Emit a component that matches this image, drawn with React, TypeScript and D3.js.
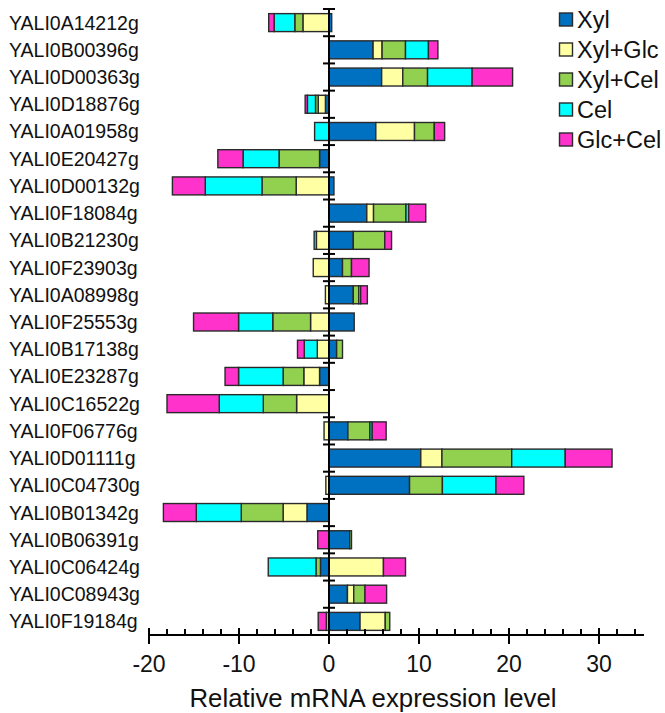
import React from "react";
import * as d3 from "d3";

const categories = [
  "YALI0A14212g", "YALI0B00396g", "YALI0D00363g", "YALI0D18876g", "YALI0A01958g",
  "YALI0E20427g", "YALI0D00132g", "YALI0F18084g", "YALI0B21230g", "YALI0F23903g",
  "YALI0A08998g", "YALI0F25553g", "YALI0B17138g", "YALI0E23287g", "YALI0C16522g",
  "YALI0F06776g", "YALI0D01111g", "YALI0C04730g", "YALI0B01342g", "YALI0B06391g",
  "YALI0C06424g", "YALI0C08943g", "YALI0F19184g",
];

const seriesNames = ["Xyl", "Xyl+Glc", "Xyl+Cel", "Cel", "Glc+Cel"];
const seriesColors = ["#0070C0", "#FFFFA3", "#92D050", "#00FFFF", "#FF33CC"];

const xyl = [0.3, 4.9, 5.85, -0.4, 5.2, -1.05, 0.55, 4.2, 2.7, 1.5, 2.7, 2.8, 0.85, -1.05, 0, 2.1, 10.2, 8.95, -2.45, 2.3, -0.95, 2.05, 3.45];
const xylGlc = [-2.9, 1.0, 2.35, -0.8, 4.3, 0, -3.65, 0.75, -1.4, -1.75, -0.4, -2.05, -1.3, -1.75, -3.6, -0.55, 2.35, -0.35, -2.65, 0, 6.05, 0.7, 2.8];
const xylCel = [-0.9, 2.6, 2.75, -0.3, 2.2, -4.5, -3.8, 3.6, 3.5, 1.0, 0.6, -4.2, 0.65, -2.3, -3.7, 2.45, 7.75, 3.65, -4.65, 0.2, -0.5, 1.25, 0.5];
const cel = [-2.3, 2.55, 4.95, -0.9, -1.6, -4.0, -6.3, 0.3, -0.25, 0, 0.22, -3.8, -1.45, -4.95, -4.9, 0.25, 5.95, 5.95, -5.0, 0, -5.3, 0, -0.3];
const glcCel = [-0.6, 1.05, 4.5, -0.25, 1.15, -2.8, -3.65, 1.9, 0.75, 1.95, 0.74, -5.0, -0.75, -1.5, -5.8, 1.55, 5.2, 3.1, -3.65, -1.25, 2.45, 2.4, -0.9];

const majorTicks = [-20, -10, 0, 10, 20, 30];
const minorTicks = d3.range(-18, 35, 2).filter((v) => v % 10 !== 0);

const W = 665;
const H = 713;
const FONT = "Arial, 'Liberation Sans', Helvetica, sans-serif";

export default function App() {
  const seriesArrays = [xyl, xylGlc, xylCel, cel, glcCel];
  const rows = categories.map((c, i) => {
    const r: Record<string, any> = { cat: c };
    seriesNames.forEach((s, j) => (r[s] = seriesArrays[j][i]));
    return r;
  });

  const stack = d3.stack<any>().keys(seriesNames).offset(d3.stackOffsetDiverging).order(d3.stackOrderNone);
  const layers = stack(rows);

  const x = d3.scaleLinear().domain([-20, 35]).range([149, 644]);
  const y = d3.scaleBand<string>().domain(categories).range([9, 635]).paddingInner(0.34).paddingOuter(0.17);
  const step = y.step();
  const axisY = 635;
  const x0 = x(0);

  return (
    <svg width={W} height={H} style={{ position: "absolute", left: 0, top: 0, background: "#fff" }} fontFamily={FONT}>
      {/* bars */}
      {layers.map((layer, li) => (
        <g key={layer.key}>
          {layer.map((d, i) => {
            const a = x(d[0]);
            const b = x(d[1]);
            if (Math.abs(b - a) < 0.01) return null;
            return (
              <rect
                key={i}
                x={Math.min(a, b)}
                y={y(categories[i])!}
                width={Math.abs(b - a)}
                height={y.bandwidth()}
                fill={seriesColors[li]}
                stroke="#2a2a2a"
                strokeWidth={1.4}
              />
            );
          })}
        </g>
      ))}

      {/* y axis */}
      <line x1={x0} x2={x0} y1={9} y2={axisY} stroke="#000" strokeWidth={2} />
      {categories.map((c, i) => {
        const ty = y(c)! - (y.paddingInner() * step) / 2;
        return <line key={"yt" + i} x1={x0 - 6} x2={x0 + 6} y1={ty} y2={ty} stroke="#000" strokeWidth={2} />;
      })}

      {/* category labels */}
      {categories.map((c) => (
        <text key={"lab" + c} x={9} y={y(c)! + y.bandwidth() / 2} dy="0.36em" fontSize={19.5} fill="#111">
          {c}
        </text>
      ))}

      {/* x axis */}
      <line x1={x(-20)} x2={x(35)} y1={axisY} y2={axisY} stroke="#000" strokeWidth={2} />
      {majorTicks.map((t) => (
        <g key={"mt" + t}>
          <line x1={x(t)} x2={x(t)} y1={axisY - 7} y2={axisY + 9} stroke="#000" strokeWidth={2} />
          <text x={x(t)} y={672} textAnchor="middle" fontSize={23} fill="#111">
            {t}
          </text>
        </g>
      ))}
      {minorTicks.map((t) => (
        <line key={"mn" + t} x1={x(t)} x2={x(t)} y1={axisY - 6} y2={axisY} stroke="#000" strokeWidth={2} />
      ))}
      <text x={373} y={707} textAnchor="middle" fontSize={25.8} fill="#111">
        Relative mRNA expression level
      </text>

      {/* legend */}
      {seriesNames.map((s, i) => {
        const cy = 19.5 + i * 30;
        return (
          <g key={"lg" + s}>
            <rect x={559.5} y={cy - 6.5} width={13} height={13} fill={seriesColors[i]} stroke="#2a2a2a" strokeWidth={1.4} />
            <text x={577} y={cy} dy="0.36em" fontSize={23.5} fill="#111">
              {s}
            </text>
          </g>
        );
      })}
    </svg>
  );
}
